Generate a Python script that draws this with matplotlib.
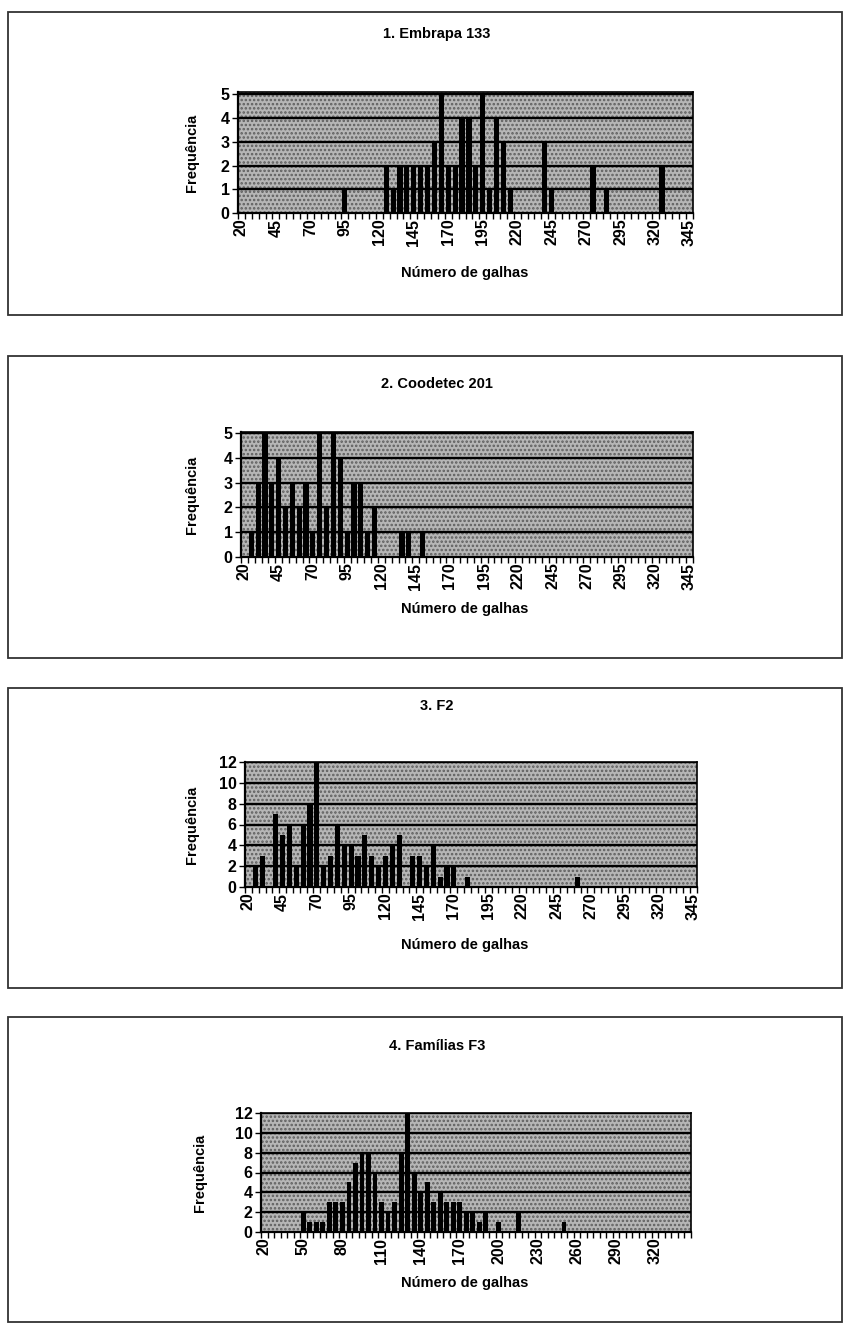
import numpy as np
import matplotlib
matplotlib.use("Agg")
import matplotlib.pyplot as plt
from matplotlib.patches import Rectangle

plt.rcParams['font.family'] = ['Liberation Sans', 'DejaVu Sans']
plt.rcParams['font.weight'] = 'bold'
plt.rcParams['hatch.linewidth'] = 1.2

# classes de numero de galhas (20 a 345, passo 5)
categorias = list(range(20, 350, 5))

# 1. Embrapa 133
embrapa_classes = [95, 125, 130, 135, 140, 145, 150, 155, 160, 165, 170, 175, 180,
                   185, 190, 195, 200, 205, 210, 215, 240, 245, 275, 285, 325]
embrapa_freq = [1, 2, 1, 2, 2, 2, 2, 2, 3, 5, 2, 2, 4,
                4, 2, 5, 1, 4, 3, 1, 3, 1, 2, 1, 2]

# 2. Coodetec 201
coodetec_classes = [25, 30, 35, 40, 45, 50, 55, 60, 65, 70, 75, 80, 85, 90,
                    95, 100, 105, 110, 115, 135, 140, 150]
coodetec_freq = [1, 3, 5, 3, 4, 2, 3, 2, 3, 1, 5, 2, 5, 4,
                 1, 3, 3, 1, 2, 1, 1, 1]

# 3. F2
f2_classes = [25, 30, 40, 45, 50, 55, 60, 65, 70, 75, 80, 85, 90, 95, 100, 105,
              110, 115, 120, 125, 130, 140, 145, 150, 155, 160, 165, 170, 180, 260]
f2_freq = [2, 3, 7, 5, 6, 2, 6, 8, 12, 2, 3, 6, 4, 4, 3, 5,
           3, 2, 3, 4, 5, 3, 3, 2, 4, 1, 2, 2, 1, 1]

# 4. Familias F3
f3_classes = [50, 55, 60, 65, 70, 75, 80, 85, 90, 95, 100, 105, 110, 115, 120, 125,
              130, 135, 140, 145, 150, 155, 160, 165, 170, 175, 180, 185, 190, 200,
              215, 250]
f3_freq = [2, 1, 1, 1, 3, 3, 3, 5, 7, 8, 8, 6, 3, 2, 3, 8,
           12, 6, 4, 5, 3, 4, 3, 3, 3, 2, 2, 1, 2, 1,
           2, 1]

W, H = 850, 1329
fig = plt.figure(figsize=(W / 100, H / 100), dpi=100)


def fx(px):
    return px / W


def fy(px):
    return 1 - px / H


def painel(titulo, classes, freq, box, plot, ymax, ystep, label_every,
           title_y, xlabel_y, ylabel_x):
    # moldura do grafico
    x0, y0, x1, y1 = box
    fig.add_artist(Rectangle((fx(x0), fy(y1)), fx(x1 - x0), (y1 - y0) / H,
                             transform=fig.transFigure, fill=False,
                             edgecolor='#333333', lw=1.3))
    px0, py0, px1, py1 = plot
    ax = fig.add_axes([fx(px0), fy(py1), fx(px1 - px0), (py1 - py0) / H])
    ax.set_facecolor('#b6b6b6')
    ax.add_patch(Rectangle((0, 0), 1, 1, transform=ax.transAxes, facecolor='none',
                           edgecolor='#5e5e5e', hatch='....', lw=0, zorder=0.5))

    d = dict(zip(classes, freq))
    valores = [d.get(c, 0) for c in categorias]
    x = np.arange(len(categorias))
    ax.bar(x, valores, width=0.75, color='black', zorder=3)

    ax.set_xlim(-0.5, len(categorias) - 0.5)
    ax.set_ylim(0, ymax)
    yt = np.arange(0, ymax + 0.01, ystep)
    ax.set_yticks(yt)
    ax.set_yticklabels([str(int(v)) for v in yt], fontsize=11.5, fontweight='bold')
    for v in yt[1:]:
        ax.axhline(v, color='black', lw=1.7, zorder=2)

    ax.set_xticks(x[::label_every])
    ax.set_xticklabels([str(c) for c in categorias[::label_every]], rotation=90,
                       fontsize=11.5, fontweight='bold')
    ax.set_xticks(np.arange(len(categorias) + 1) - 0.5, minor=True)
    ax.tick_params(axis='x', which='major', length=0, pad=4)
    ax.tick_params(axis='x', which='minor', length=4, width=1, direction='out')
    ax.tick_params(axis='y', length=4, width=1, pad=2)
    for s in ax.spines.values():
        s.set_color('black')
        s.set_linewidth(1.2)
    ax.spines['left'].set_linewidth(1.6)
    ax.spines['bottom'].set_linewidth(1.6)

    fig.text(fx(437), fy(title_y), titulo, ha='center', va='center',
             fontsize=10.5, fontweight='bold')
    fig.text(fx(465), fy(xlabel_y), 'Número de galhas', ha='center', va='center',
             fontsize=10.5, fontweight='bold')
    fig.text(fx(ylabel_x), fy((py0 + py1) / 2), 'Frequência', ha='center',
             va='center', rotation=90, fontsize=10.5, fontweight='bold')
    return ax


painel('1. Embrapa 133', embrapa_classes, embrapa_freq,
       (8, 12, 842, 315), (238, 92, 693, 213), 5.1, 1, 5, 34, 273, 192)
painel('2. Coodetec 201', coodetec_classes, coodetec_freq,
       (8, 356, 842, 658), (241, 432, 693, 557), 5.05, 1, 5, 384, 609, 192)
painel('3. F2', f2_classes, f2_freq,
       (8, 688, 842, 988), (245, 762, 697, 887), 12, 2, 5, 706, 945, 192)
painel('4. Famílias F3', f3_classes, f3_freq,
       (8, 1017, 842, 1322), (261, 1113, 691, 1232), 12, 2, 6, 1046, 1283, 200)

fig.savefig('out.png', dpi=100, facecolor='white')
